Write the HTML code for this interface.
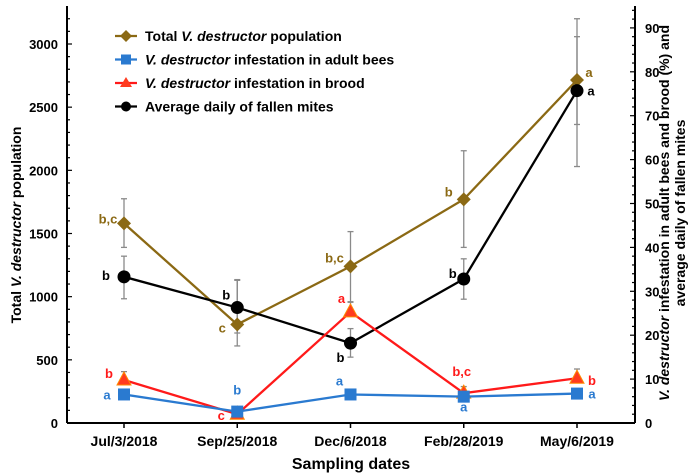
<!DOCTYPE html>
<html><head><meta charset="utf-8"><style>
body{margin:0;background:#fff;}
svg{display:block;font-family:"Liberation Sans",Arial,sans-serif;font-weight:bold;}
</style></head><body>
<svg id="chart" width="700" height="476" viewBox="0 0 700 476"></svg>
<script>
const categories=["Jul/3/2018","Sep/25/2018","Dec/6/2018","Feb/28/2019","May/6/2019"];
const totalPop=[1580,780,1240,1770,2715];
const totalLo=[1390,610,960,1390,2030];
const totalHi=[1775,1135,1515,2155,3200];
const totalLetters=["b,c","c","b,c","b","a"];
const adultInf=[6.5,2.6,6.5,6.0,6.7];
const adultLetters=["a","b","a","a","a"];
const broodInf=[9.8,2.0,25.3,6.8,10.2];
const broodHi=[11.7,2.5,27.5,8.3,12.3];
const broodLetters=["b","c","a","b,c","b"];
const fallen=[33.3,26.3,18.2,32.8,75.7];
const fallenLo=[28.3,20.5,15.0,28.2,68.0];
const fallenHi=[38.0,32.5,21.5,37.4,88.0];
const fallenLetters=["b","b","b","b","a"];
const leftTicks=[0,500,1000,1500,2000,2500,3000];
const rightTicks=[0,10,20,30,40,50,60,70,80,90];

const NS="http://www.w3.org/2000/svg";
const svg=document.getElementById('chart');
const X0=67,X1=635,Y0=423;
const xPos=i=>124+i*113.25;
const yL=v=>Y0-v*(379/3000);
const yR=v=>Y0-v*4.39;
function mk(tag,attrs,parent){const e=document.createElementNS(NS,tag);for(const k in attrs)e.setAttribute(k,attrs[k]);(parent||svg).appendChild(e);return e;}
function txt(s,x,y,attrs){const t=mk('text',Object.assign({x:x,y:y},attrs||{}));t.textContent=s;return t;}

let a=mk('line',{x1:X0,y1:6,x2:X0,y2:Y0,stroke:'#000','stroke-width':2});

a=mk('line',{x1:X1,y1:6,x2:X1,y2:Y0,stroke:'#000','stroke-width':2});

a=mk('line',{x1:X0,y1:Y0,x2:X1,y2:Y0,stroke:'#000','stroke-width':2});

for(let v=0;v<=3250;v+=100){mk('line',{x1:X0,y1:yL(v),x2:X0+(v%500===0?5:3),y2:yL(v),stroke:'#000','stroke-width':1.2});}
leftTicks.forEach(v=>{const t=txt(v,58,yL(v)+5,{'text-anchor':'end','font-size':13});
});
for(let v=0;v<=95;v+=2){mk('line',{x1:X1,y1:yR(v),x2:X1-(v%10===0?5:3),y2:yR(v),stroke:'#000','stroke-width':1.2});}
rightTicks.forEach(v=>{const t=txt(v,645,yR(v)+5,{'font-size':13});
});
categories.forEach((c,i)=>{mk('line',{x1:xPos(i),y1:Y0,x2:xPos(i),y2:Y0+5,stroke:'#000','stroke-width':1.5});
const t=txt(c,xPos(i),446,{'text-anchor':'middle','font-size':14});
});
let t=txt('Sampling dates',351,469,{'text-anchor':'middle','font-size':16});

t=mk('text',{transform:'translate(21,225) rotate(-90)','text-anchor':'middle','font-size':14});
t.innerHTML='Total <tspan font-style="italic">V. destructor</tspan> population';

t=mk('text',{transform:'translate(669,213) rotate(-90)','text-anchor':'middle','font-size':14});
t.innerHTML='<tspan x="0" y="0"><tspan font-style="italic">V. destructor</tspan> infestation in adult bees and brood (%) and</tspan><tspan x="0" y="16">average daily of fallen mites</tspan>';


function err(x,lo,hi,name){const g=mk('g',{stroke:'#8a8a8a','stroke-width':1.3});

mk('line',{x1:x,y1:lo,x2:x,y2:hi},g);mk('line',{x1:x-3,y1:lo,x2:x+3,y2:lo},g);mk('line',{x1:x-3,y1:hi,x2:x+3,y2:hi},g);}
categories.forEach((c,i)=>{
err(xPos(i),yL(totalLo[i]),yL(totalHi[i]),'total-error-bar');
err(xPos(i),yR(fallenLo[i]),yR(fallenHi[i]),'fallen-error-bar');
err(xPos(i),yR(broodInf[i]),yR(broodHi[i]),'brood-error-bar');
});

function series(vals,yf,color,marker,name,letters,lx,ly){
const g=mk('g',{});
mk('polyline',{points:vals.map((v,i)=>xPos(i)+','+yf(v)).join(' '),fill:'none',stroke:color,'stroke-width':2.3},g);
vals.forEach((v,i)=>{const x=xPos(i),y=yf(v);let m;
if(marker==='d')m=mk('polygon',{points:`${x},${y-7} ${x+7},${y} ${x},${y+7} ${x-7},${y}`,fill:color},g);
else if(marker==='s')m=mk('rect',{x:x-6,y:y-6,width:12,height:12,fill:color},g);
else if(marker==='t')m=mk('polygon',{points:`${x},${y-8} ${x+7},${y+5} ${x-7},${y+5}`,fill:'#ff3b1f',stroke:'#ff8a00','stroke-width':1},g);
else m=mk('circle',{cx:x,cy:y,r:6.5,fill:color},g);

const l=txt(letters[i],x+lx[i],y+ly[i],{'text-anchor':'middle','font-size':13,fill:color});
});}
series(totalPop,yL,'#8b6914','d','total-population-series',totalLetters,[-16,-15,-16,-15,12],[0,8,-4,-3,-3]);
series(fallen,yR,'#000','c','fallen-mites-series',fallenLetters,[-18,-11,-10,-11,14],[3,-8,19,-1,5]);
series(broodInf,yR,'#ff1a1a','t','brood-infestation-series',broodLetters,[-15,-16,-9,-2,15],[-2,6,-9,-17,7]);
series(adultInf,yR,'#2a7ad0','s','adult-infestation-series',adultLetters,[-17,0,-11,0,15],[5,-17,-9,15,5]);

const leg=[['Total ','V. destructor',' population','#8b6914','d'],['','V. destructor',' infestation in adult bees','#2a7ad0','s'],['','V. destructor',' infestation in brood','#ff1a1a','t'],['Average daily of fallen mites','','','#000','c']];
leg.forEach((L,i)=>{const y=36+i*23.5;const g=mk('g',{});

mk('line',{x1:115,y1:y,x2:137,y2:y,stroke:L[3],'stroke-width':2.3},g);const x=126;
if(L[4]==='d')mk('polygon',{points:`${x},${y-6} ${x+6},${y} ${x},${y+6} ${x-6},${y}`,fill:L[3]},g);
else if(L[4]==='s')mk('rect',{x:x-5,y:y-5,width:10,height:10,fill:L[3]},g);
else if(L[4]==='t')mk('polygon',{points:`${x},${y-6} ${x+6},${y+4} ${x-6},${y+4}`,fill:'#ff3b1f'},g);
else mk('circle',{cx:x,cy:y,r:5,fill:L[3]},g);
const tt=mk('text',{x:145,y:y+5,'font-size':14},g);
tt.innerHTML=L[0]+(L[1]?'<tspan font-style="italic">'+L[1]+'</tspan>':'')+L[2];});
</script>
</body></html>
